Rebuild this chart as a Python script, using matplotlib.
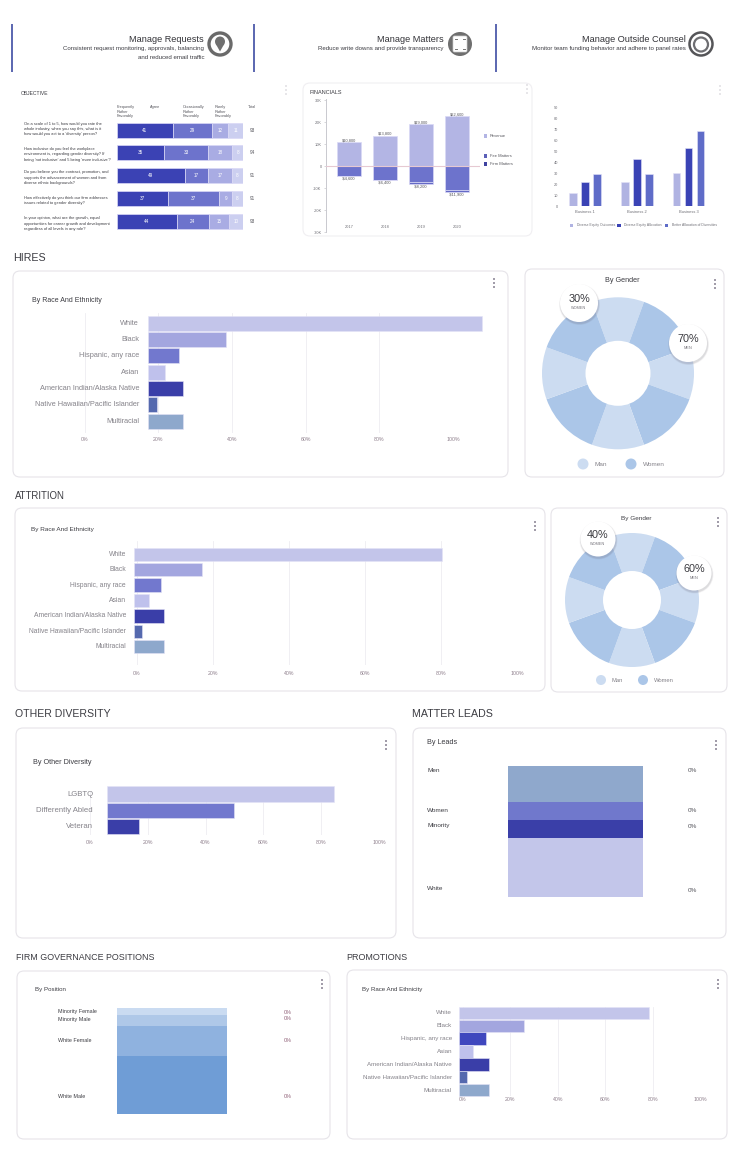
import matplotlib

matplotlib.use("Agg")
import matplotlib.pyplot as plt
import numpy as np
from matplotlib.patches import Circle, FancyBboxPatch, Polygon

plt.rcParams["font.family"] = ["Liberation Sans", "DejaVu Sans"]

W, H = 745, 1160

# survey table
survey_columns = ["Frequently\nRather\nFavorably", "Agree", "Occasionally\nRather\nFavorably", "Rarely\nRather\nFavorably", "Total"]
survey_questions = [
    "On a scale of 1 to 5, how would you rate the\nwhole industry, when you say this, what is it\nhow would you act to a 'diversity' person?",
    "How inclusive do you feel the workplace\nenvironment is, regarding gender diversity? If\nbeing 'not inclusive' and 5 being 'more inclusive'?",
    "Do you believe you the contract, promotion, and\nsupports the advancement of women and from\ndiverse ethnic backgrounds?",
    "How effectively do you think our firm addresses\nissues related to gender diversity?",
    "In your opinion, what are the growth, equal\nopportunities for career growth and development\nregardless of all levels in any role?",
]
survey_frequent = [41, 35, 49, 37, 44]
survey_agree = [29, 33, 17, 37, 24]
survey_occasional = [12, 18, 17, 9, 15]
survey_rare = [11, 8, 8, 8, 10]
survey_colors = ["#3B42B4", "#6D73CC", "#A9ACE3", "#CCCFF0"]

# financials, in thousands
fin_years = ["2017", "2018", "2019", "2020"]
fin_revenue = [10.8, 13.8, 19.0, 22.6]
fin_fee = [-4.5, -6.3, -7.1, -10.9]
fin_firm = [-0.1, -0.1, -1.1, -1.0]
fin_ticks = [30, 20, 10, 0, -10, -20, -30]
fin_tick_labels = ["30K", "20K", "10K", "0", "-10K", "-20K", "-30K"]

# business comparison
biz_names = ["Business 1", "Business 2", "Business 3"]
biz_outcomes = [12, 22, 30]
biz_allocation = [22, 43, 53]
biz_better = [29, 29, 69]
biz_series = ["Diverse Equity Outcomes", "Diverse Equity Allocation", "Better Allocation of Diversities"]
biz_colors = ["#B0B3E2", "#3A43B5", "#5F6CC8"]

race_names = [
    "White",
    "Black",
    "Hispanic, any race",
    "Asian",
    "American Indian/Alaska Native",
    "Native Hawaiian/Pacific Islander",
    "Multiracial",
]
race_colors = ["#C3C5EA", "#A3A6DF", "#7278CE", "#BFC1EC", "#3A3EA8", "#5569AE", "#8EA8CC"]
promo_colors = ["#C3C5EA", "#A3A6DF", "#3F47BE", "#BFC1EC", "#3A3EA8", "#5569AE", "#8EA8CC"]
pct_ticks = [0, 20, 40, 60, 80, 100]

hires_values = [90.6, 21.2, 8.4, 4.6, 9.5, 2.4, 9.5]
attrition_values = [81.0, 18.0, 7.2, 4.0, 8.0, 2.0, 8.0]
promotion_values = [80.2, 27.4, 11.4, 5.9, 12.7, 3.4, 12.7]

other_names = ["LGBTQ", "Differently Abled", "Veteran"]
other_values = [78.6, 43.8, 11.1]
other_colors = ["#C3C5EA", "#7278CE", "#3A3EA8"]

# gender donuts alternate between a 40 and a 50 degree wedge
gender_wedges = [40, 50, 40, 50, 40, 50, 40, 50]
gender_colors = ["#CCDCF1", "#ABC6E8"]

lead_names = ["Men", "Women", "Minority", "White"]
lead_shares = [27.6, 13.7, 13.7, 45.0]
lead_colors = ["#8FA8CC", "#7078CC", "#3A3FA8", "#C3C6EA"]

position_names = ["Minority Female", "Minority Male", "White Female", "White Male"]
position_shares = [6.9, 10.4, 27.4, 55.3]
position_colors = ["#CADBF1", "#AFC8E8", "#8FB2DF", "#6F9DD6"]

GRID = "#EEEDF1"
TICK = "#8E7F8C"
LABEL = "#85838A"
DARK = "#3C3C42"

fig = plt.figure(figsize=(W / 100, H / 100), dpi=100, facecolor="white")


def px_axes(left, top, right, bottom, zorder=2):
    ax = fig.add_axes([left / W, 1 - bottom / H, (right - left) / W, (bottom - top) / H], zorder=zorder)
    ax.set_facecolor("none")
    for spine in ax.spines.values():
        spine.set_visible(False)
    return ax


bg = px_axes(0, 0, W, H, zorder=0)
bg.set_xlim(0, W)
bg.set_ylim(H, 0)
bg.axis("off")

top = px_axes(0, 0, W, H, zorder=10)
top.set_xlim(0, W)
top.set_ylim(H, 0)
top.axis("off")


def card(x0, y0, x1, y1, edge="#E6E4E9", menu=None):
    bg.add_patch(
        FancyBboxPatch(
            (x0, y0),
            x1 - x0,
            y1 - y0,
            boxstyle="round,pad=0,rounding_size=7",
            facecolor="white",
            edgecolor=edge,
            linewidth=0.8,
        )
    )
    if menu:
        menu_dots(*menu)


def menu_dots(x, y, r=1.0):
    for dy in (-4, 0, 4):
        top.add_patch(Circle((x, y + dy), r, color="#8A8494", lw=0))


def section(x, y, text, fontsize=7):
    top.text(x, y, text, fontsize=fontsize, color=DARK, va="center")


def hbar_chart(values, names, colors, y_rows, row_h, grid_span, grid_x, bar_left, label_x, tick_y, fontsize=5.3):
    # grid_x is the pixel pair of 0% and 100%, bars may start away from 0%
    y_first, y_last = y_rows
    step = (y_last - y_first) / (len(values) - 1)
    ax = px_axes(grid_x[0], grid_span[0], grid_x[1], grid_span[1])
    ax.set_xlim(0, 100)
    ax.set_ylim((grid_span[1] - y_first) / step, (grid_span[0] - y_first) / step)
    pct_px = (grid_x[1] - grid_x[0]) / 100
    left = (bar_left - grid_x[0]) / pct_px
    ax.barh(
        np.arange(len(values)),
        values,
        left=left,
        height=row_h / step,
        color=colors,
        edgecolor="#E4E3F6",
        linewidth=0.4,
        clip_on=False,
        zorder=3,
    )
    ax.set_xticks(pct_ticks)
    ax.set_xticklabels([f"{t}%" for t in pct_ticks], fontsize=3.8, color=TICK)
    ax.tick_params(axis="x", length=0, pad=(tick_y - grid_span[1]) * 0.72 - 2)
    ax.set_yticks([])
    ax.grid(axis="x", color=GRID, linewidth=0.6, zorder=0)
    ax.set_axisbelow(True)
    for i, name in enumerate(names):
        ax.text((label_x - grid_x[0]) / pct_px, i, name, ha="right", va="center", fontsize=fontsize, color=LABEL)


def donut(cx, cy, outer, inner):
    ax = px_axes(cx - outer, cy - outer, cx + outer, cy + outer)
    ax.pie(
        gender_wedges,
        colors=gender_colors * 4,
        startangle=110,
        counterclock=False,
        radius=1,
        wedgeprops={"linewidth": 0},
    )
    ax.add_patch(Circle((0, 0), inner / outer, color="white", lw=0, zorder=5))
    ax.set_xlim(-1, 1)
    ax.set_ylim(-1, 1)


def bubble(x, y, r, big, small):
    for grow, alpha in ((1.5, 0.05), (1.0, 0.07), (0.5, 0.09)):
        top.add_patch(Circle((x + 0.5, y + 1.5), r + grow, color="#55505f", alpha=alpha, lw=0))
    top.add_patch(Circle((x, y), r, color="white", lw=0))
    top.text(x, y - 3.5, big, ha="center", va="center", fontsize=7.8, color="#3b3b40")
    top.text(x, y + 5, small, ha="center", va="center", fontsize=2.8, color="#77757C")


def gender_legend(y, r, man_x, woman_x, fontsize):
    top.add_patch(Circle((man_x, y), r, color=gender_colors[0], lw=0))
    top.add_patch(Circle((woman_x, y), r, color=gender_colors[1], lw=0))
    top.text(man_x + r + 6, y, "Man", fontsize=fontsize, color=LABEL, va="center")
    top.text(woman_x + r + 6, y, "Women", fontsize=fontsize, color=LABEL, va="center")


def block_chart(shares, colors, x0, y0, x1, y1):
    ax = px_axes(x0, y0, x1, y1)
    ax.bar(0, shares, bottom=np.cumsum([0] + shares[:-1]), width=1, color=colors, linewidth=0)
    ax.set_xlim(-0.5, 0.5)
    ax.set_ylim(sum(shares), 0)
    ax.set_xticks([])
    ax.set_yticks([])


# header strip
for x in (12, 254, 496):
    top.plot([x, x], [24, 72], color="#5A66B0", lw=1.4, solid_capstyle="butt")
header_text = [
    (204, "Manage Requests", ["Consistent request monitoring, approvals, balancing", "and reduced email traffic"]),
    (444, "Manage Matters", ["Reduce write downs and provide transparency"]),
    (686, "Manage Outside Counsel", ["Monitor team funding behavior and adhere to panel rates"]),
]
for x, head, subs in header_text:
    top.text(x, 39.5, head, ha="right", va="center", fontsize=6.6, color="#333338")
    for i, line in enumerate(subs):
        top.text(x, 48.5 + 9 * i, line, ha="right", va="center", fontsize=4.45, color="#3c3c42")

top.add_patch(Circle((220, 44), 11, fc="white", ec="#6A6A6A", lw=2.4))
top.add_patch(Circle((220, 41.5), 5, color="#707070", lw=0))
top.add_patch(Polygon([(215.5, 43.5), (224.5, 43.5), (220, 51.5)], color="#707070", lw=0))
top.add_patch(Circle((460, 44), 12, color="#6F6F6F", lw=0))
top.add_patch(FancyBboxPatch((453, 36), 14, 16, boxstyle="round,pad=0,rounding_size=1.5", fc="white", ec="#D0D0D0", lw=0.5))
for px, py in ((456, 39), (464, 39), (456, 49), (464, 49)):
    top.plot([px - 1, px + 1], [py, py], color="#777777", lw=0.7)
top.add_patch(Circle((701, 44), 11.5, fc="white", ec="#555558", lw=1.8))
top.add_patch(Circle((701, 44.5), 7, fc="white", ec="#6E6E72", lw=1.6))

# survey table
top.text(21, 93.5, "OBJECTIVE", fontsize=3.6, color=DARK, va="center")
menu_dots(286, 90, r=0.5)
survey_headers_x = [117, 150, 183, 215, 248]
for x, name in zip(survey_headers_x, survey_columns):
    top.text(x, 105, name, fontsize=2.8, color="#55555C", va="top", linespacing=1.25)
survey_text_y = [129, 154.5, 177.5, 200.5, 223.5]
survey_step = (221.3 - 130) / 4
survey = px_axes(117, 122, 243, 229.5)
survey.set_xlim(0, 100)
survey.set_ylim((229.5 - 130) / survey_step, (122 - 130) / survey_step)
survey.set_xticks([])
survey.set_yticks([])
survey_rows = np.array([survey_frequent, survey_agree, survey_occasional, survey_rare], dtype=float)
survey_totals = survey_rows.sum(axis=0)
survey_left = np.zeros(len(survey_totals))
for idx, row in enumerate(survey_rows):
    shares = row / survey_totals * 100
    survey.barh(
        np.arange(len(shares)),
        shares,
        left=survey_left,
        height=15 / survey_step,
        color=survey_colors[idx],
        edgecolor="#DAD9F6",
        linewidth=0.5,
    )
    for i, (share, value) in enumerate(zip(shares, row)):
        survey.text(survey_left[i] + share / 2, i, f"{value:.0f}", ha="center", va="center", fontsize=3.3, color="white")
    survey_left += shares
for i, total in enumerate(survey_totals):
    survey.text(107.5, i, f"{total:.0f}", ha="center", va="center", fontsize=3.3, color="#55555C")
for y, question in zip(survey_text_y, survey_questions):
    top.text(24, y, question, fontsize=2.9, color="#3c3c42", va="center", linespacing=1.35)

# financials
card(303, 83, 532, 236, edge="#F0EFF2")
top.text(310, 92, "FINANCIALS", fontsize=4.0, color=DARK, va="center")
menu_dots(527, 89, r=0.5)
fin = px_axes(325.7, 99, 480, 232)
k_px = 2.2
fin.set_ylim(-(232 - 166) / k_px, (166 - 99) / k_px)
fin.set_xlim((325.7 - 349) / 36, (480 - 349) / 36)
xs = np.arange(len(fin_years))
fin.bar(xs, fin_revenue, width=23.3 / 36, color="#B3B5E4", edgecolor="#DAD9F6", linewidth=0.5, zorder=2)
fin.bar(xs, fin_fee, width=23.3 / 36, color="#6D73CC", edgecolor="#DAD9F6", linewidth=0.5, zorder=2)
fin.bar(xs, fin_firm, bottom=fin_fee, width=23.3 / 36, color="#6469C6", edgecolor="#DAD9F6", linewidth=0.5, zorder=2)
fin.axhline(0, color="#E6C9D2", lw=0.8, zorder=3)
fin.spines["left"].set_visible(True)
fin.spines["left"].set_color("#C9C9CF")
fin.spines["left"].set_linewidth(0.7)
fin.set_yticks(fin_ticks)
fin.set_yticklabels(fin_tick_labels, fontsize=2.8, color="#6f6f76")
fin.tick_params(axis="y", length=1.5, width=0.4, color="#B9B9C0", pad=1.5)
fin.set_xticks([])
for i, year in enumerate(fin_years):
    fin.text(i, -27.7, year, ha="center", va="center", fontsize=2.9, color="#6f6f76")
    fin.text(i, fin_revenue[i] + 1.0, f"${fin_revenue[i] * 1000:,.0f}", ha="center", va="center", fontsize=2.9, color="#55555C")
    low = fin_fee[i] + fin_firm[i]
    fin.text(i, low - 1.1, f"-${abs(low) * 1000:,.0f}", ha="center", va="center", fontsize=2.9, color="#55555C")
fin_legend = [("Revenue", 136, "#B3B5E4"), ("Fee Matters", 156, "#5B60B8"), ("Firm Matters", 164, "#3F43A0")]
for name, y, color in fin_legend:
    top.add_patch(FancyBboxPatch((484, y - 1.7), 3.4, 3.4, boxstyle="square,pad=0", color=color, lw=0))
    top.text(490, y, name, fontsize=2.9, color="#55555C", va="center")

# business comparison
menu_dots(720, 90, r=0.5)
biz = px_axes(565, 96, 712, 206)
biz.set_xlim((565 - 585) / 51.7, (712 - 585) / 51.7)
biz.set_ylim(0, 110 / 1.09)
gx = np.arange(len(biz_names))
for offset, vals, color in zip((-1, 0, 1), (biz_outcomes, biz_allocation, biz_better), biz_colors):
    biz.bar(gx + offset * 12 / 51.7, vals, width=7.7 / 51.7, color=color, edgecolor="#E2E1F7", linewidth=0.4)
biz.set_yticks(np.arange(0, 100, 10))
biz.set_yticklabels([str(v) for v in range(0, 100, 10)], fontsize=2.8, color="#6f6f76")
biz.tick_params(axis="y", length=0, pad=5)
biz.set_xticks(gx)
biz.set_xticklabels(biz_names, fontsize=2.9, color="#6f6f76")
biz.tick_params(axis="x", length=0, pad=3)
for x, name, color in zip((571.7, 619, 666.7), biz_series, biz_colors):
    top.add_patch(FancyBboxPatch((x - 1.7, 223.6), 3.4, 3.4, boxstyle="square,pad=0", color=color, lw=0))
    top.text(x + 5, 225.3, name, fontsize=2.4, color="#6f6f76", va="center")

# hires
section(13, 258, "HIRES", fontsize=7.7)
card(13, 271, 508, 477, menu=(494, 283))
top.text(32, 300.5, "By Race And Ethnicity", fontsize=5.0, color=DARK, va="center")
hbar_chart(hires_values, race_names, race_colors, (323, 421), 15, (313, 433), (84.5, 453), 148, 139, 440)
card(525, 269, 724, 477, menu=(715, 284))
top.text(622, 281, "By Gender", ha="center", va="center", fontsize=5.2, color=DARK)
donut(618, 373.3, 76, 32.5)
bubble(579, 303, 19, "30%", "WOMEN")
bubble(688, 343, 19, "70%", "MEN")
gender_legend(464, 5.5, 583, 631, 4.6)

# attrition
section(15, 496, "ATTRITION", fontsize=6.9)
card(15, 508, 545, 691, menu=(535, 526))
top.text(31, 530, "By Race And Ethnicity", fontsize=4.6, color=DARK, va="center")
hbar_chart(attrition_values, race_names, race_colors, (554.3, 646.7), 13.3, (541, 665), (137, 517.5), 134, 126, 674, fontsize=4.9)
card(551, 508, 727, 692, menu=(718, 522))
top.text(636, 518.5, "By Gender", ha="center", va="center", fontsize=4.6, color=DARK)
donut(632, 600, 67, 29)
bubble(598, 539, 17.5, "40%", "WOMEN")
bubble(694, 573, 17.5, "60%", "MEN")
gender_legend(680, 5, 601, 643, 4.2)

# other diversity
section(15, 714, "OTHER DIVERSITY", fontsize=7.6)
card(16, 728, 396, 938, menu=(386, 745))
top.text(33, 762, "By Other Diversity", fontsize=5.2, color=DARK, va="center")
hbar_chart(other_values, other_names, other_colors, (794, 826.7), 15.5, (792, 835), (90, 379), 107, 93, 843, fontsize=5.6)

# matter leads
section(412, 714, "MATTER LEADS", fontsize=7.7)
card(413, 728, 726, 938, menu=(716, 745))
top.text(427, 743, "By Leads", fontsize=5.2, color=DARK, va="center")
block_chart(lead_shares, lead_colors, 507.7, 765.7, 643, 897)
for name, y, y2 in zip(lead_names, (770, 811, 825.5, 889), (770, 811, 827, 890)):
    top.text(427, y, name, fontsize=4.6, color=DARK, va="center")
    top.text(688, y2, "0%", fontsize=4.6, color="#55555C", va="center")

# firm governance
section(16, 958, "FIRM GOVERNANCE POSITIONS", fontsize=6.4)
card(17, 971, 330, 1139, menu=(322, 984))
top.text(35, 990, "By Position", fontsize=4.4, color=DARK, va="center")
block_chart(position_shares, position_colors, 117, 1008, 227, 1114.3)
for name, y in zip(position_names, (1012, 1019, 1041, 1096)):
    top.text(58, y, name, fontsize=3.9, color=DARK, va="center")
    top.text(284, y, "0%", fontsize=3.9, color="#8B5A72", va="center")

# promotions
section(346, 958, "PROMOTIONS", fontsize=6.5)
card(347, 970, 727, 1139, menu=(718, 984))
top.text(362, 990, "By Race And Ethnicity", fontsize=4.4, color=DARK, va="center")
hbar_chart(promotion_values, race_names, promo_colors, (1013, 1090), 12.5, (1007, 1096), (463, 700), 459, 452, 1100, fontsize=4.5)

fig.savefig("out.png", dpi=100, facecolor="white")
